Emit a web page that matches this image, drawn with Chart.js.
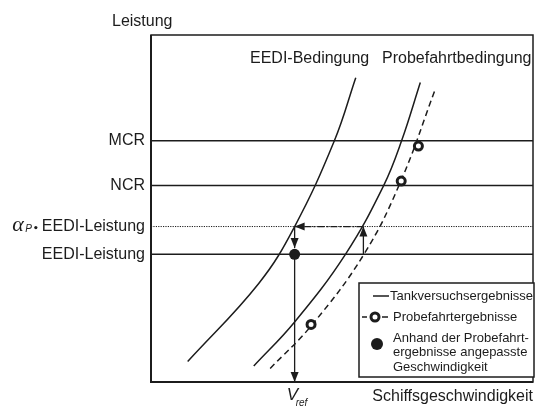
<!DOCTYPE html>
<html>
<head>
<meta charset="utf-8">
<script src="https://cdn.jsdelivr.net/npm/chart.js@4.4.1/dist/chart.umd.min.js"></script>
<style>
html, body { margin: 0; padding: 0; background: #fff; }
#wrap { width: 540px; height: 408px; }
</style>
</head>
<body>
<div id="wrap"><canvas id="chart" width="540" height="408"></canvas></div>
<script>
// Leistungs-/Geschwindigkeitsdiagramm (schematisch, Achsen 0..100)

// Leistungsstufen (y)
const levelNames = ['MCR', 'NCR', 'alpha', 'EEDI-Leistung'];
const levelValues = [69.5, 56.6, 44.8, 36.8];

// Tankversuchsergebnisse unter EEDI-Bedingung
const eediX = [9.6, 28.2, 37.6, 48.0, 53.6];
const eediY = [5.9, 28.4, 44.8, 69.5, 87.7];

// Tankversuchsergebnisse unter Probefahrtbedingung
const trialTankX = [26.9, 37.6, 50.9, 60.9, 65.6, 70.5];
const trialTankY = [4.6, 17.3, 36.8, 56.6, 69.5, 86.3];

// Probefahrtergebnisse (gestrichelte Kurve)
const trialX = [31.2, 42.1, 55.8, 65.4, 74.5];
const trialY = [3.9, 16.4, 36.9, 57.9, 84.6];

// Messpunkte der Probefahrt
const trialPointsX = [41.9, 65.5, 70.0];
const trialPointsY = [16.6, 57.9, 68.0];

// angepasste Geschwindigkeit
const vrefX = 37.6;
const adjustedY = 36.8;
const upArrowX = 55.6;

const ink = '#1c1c1c';
const FONT = '"Liberation Sans", Arial, sans-serif';

function toPoints(xs, ys) {
    return xs.map((x, i) => ({ x: x, y: ys[i] }));
}

function levelLine(value, dash, width) {
    return {
        data: [{ x: 0, y: value }, { x: 100, y: value }],
        borderColor: ink,
        borderWidth: width,
        borderDash: dash,
        pointRadius: 0,
        showLine: true,
        fill: false
    };
}

function curve(xs, ys, dash) {
    return {
        data: toPoints(xs, ys),
        borderColor: ink,
        borderWidth: 1.5,
        borderDash: dash,
        pointRadius: 0,
        showLine: true,
        tension: 0.4,
        fill: false
    };
}

function arrowLine(from, to, dash) {
    return {
        data: [from, to],
        borderColor: ink,
        borderWidth: 1.3,
        borderDash: dash,
        pointRadius: 0,
        showLine: true,
        fill: false,
        arrow: true
    };
}

const dotRadius = 5.5;

function drawArrowHead(ctx, x1, y1, x2, y2) {
    const a = Math.atan2(y2 - y1, x2 - x1);
    const len = 10, half = 4;
    const bx = x2 - len * Math.cos(a), by = y2 - len * Math.sin(a);
    ctx.beginPath();
    ctx.moveTo(x2, y2);
    ctx.lineTo(bx - half * Math.sin(a), by + half * Math.cos(a));
    ctx.lineTo(bx + half * Math.sin(a), by - half * Math.cos(a));
    ctx.closePath();
    ctx.fill();
}

const overlay = {
    id: 'overlay',
    afterDatasetsDraw(chart) {
        const ctx = chart.ctx;
        const xs = chart.scales.x;
        const ys = chart.scales.y;
        const area = chart.chartArea;
        ctx.save();
        ctx.fillStyle = ink;
        ctx.strokeStyle = ink;

        // Pfeilspitzen
        chart.data.datasets.forEach(ds => {
            if (!ds.arrow) return;
            const n = ds.data.length;
            const p1 = ds.data[n - 2], p2 = ds.data[n - 1];
            drawArrowHead(ctx,
                xs.getPixelForValue(p1.x), ys.getPixelForValue(p1.y),
                xs.getPixelForValue(p2.x), ys.getPixelForValue(p2.y));
        });

        // Rahmen
        ctx.lineWidth = 1.5;
        ctx.strokeRect(area.left, area.top, area.right - area.left, area.bottom - area.top);
        ctx.lineWidth = 2;
        ctx.beginPath();
        ctx.moveTo(area.left, area.top);
        ctx.lineTo(area.left, area.bottom);
        ctx.lineTo(area.right, area.bottom);
        ctx.stroke();

        // Beschriftung y
        ctx.font = '16px ' + FONT;
        ctx.textBaseline = 'middle';
        ctx.textAlign = 'right';
        const labelRight = area.left - 6;
        levelNames.forEach((name, i) => {
            const y = ys.getPixelForValue(levelValues[i]);
            if (name !== 'alpha') {
                ctx.fillText(name, labelRight, y);
                return;
            }
            ctx.font = '16px ' + FONT;
            const w = ctx.measureText('EEDI-Leistung').width;
            ctx.fillText('EEDI-Leistung', labelRight, y);
            const start = labelRight - w;
            ctx.beginPath();
            ctx.arc(start - 6, y + 1, 1.6, 0, Math.PI * 2);
            ctx.fill();
            ctx.textAlign = 'right';
            ctx.font = 'italic 10px ' + FONT;
            ctx.fillText('P', start - 10, y + 3);
            ctx.font = 'italic 22px "Liberation Serif", serif';
            ctx.fillText('\u03B1', start - 18, y - 1);
            ctx.font = '16px ' + FONT;
        });

        // Titel und Kurvenbeschriftungen
        ctx.textAlign = 'left';
        ctx.textBaseline = 'alphabetic';
        ctx.font = '16px ' + FONT;
        ctx.fillText('Leistung', 112, 26);
        ctx.fillText('EEDI-Bedingung', 250, 63);
        ctx.fillText('Probefahrtbedingung', 382, 63);
        ctx.textAlign = 'right';
        ctx.fillText('Schiffsgeschwindigkeit', 533, 401);

        // V_ref
        const vx = xs.getPixelForValue(vrefX);
        ctx.textAlign = 'left';
        ctx.font = 'italic 17px ' + FONT;
        ctx.fillText('V', vx - 8, 400);
        ctx.font = 'italic 10px ' + FONT;
        ctx.fillText('ref', vx + 1, 406);

        // Legende
        const lx = 359, ly = 283, lw = 175, lh = 94;
        ctx.fillStyle = '#fff';
        ctx.fillRect(lx, ly, lw, lh);
        ctx.fillStyle = ink;
        ctx.lineWidth = 1.5;
        ctx.strokeRect(lx, ly, lw, lh);

        ctx.lineWidth = 1.5;
        ctx.beginPath();
        ctx.moveTo(373, 296);
        ctx.lineTo(389, 296);
        ctx.stroke();

        ctx.beginPath();
        ctx.moveTo(362, 317);
        ctx.lineTo(367, 317);
        ctx.moveTo(382, 317);
        ctx.lineTo(388, 317);
        ctx.stroke();
        ctx.lineWidth = 3;
        ctx.beginPath();
        ctx.arc(375, 317, 4, 0, Math.PI * 2);
        ctx.stroke();

        ctx.beginPath();
        ctx.arc(377, 344, 6, 0, Math.PI * 2);
        ctx.fill();

        ctx.font = '13px ' + FONT;
        ctx.textAlign = 'left';
        ctx.textBaseline = 'middle';
        ctx.fillText('Tankversuchsergebnisse', 390, 296);
        ctx.fillText('Probefahrtergebnisse', 393, 317);
        ctx.fillText('Anhand der Probefahrt-', 393, 338);
        ctx.fillText('ergebnisse angepasste', 393, 352);
        ctx.fillText('Geschwindigkeit', 393, 367);

        ctx.restore();
    }
};

const datasets = [
    {
        data: toPoints(trialPointsX, trialPointsY),
        showLine: false,
        pointRadius: 4,
        pointBorderWidth: 3,
        pointBackgroundColor: '#fff',
        pointBorderColor: ink
    },
    {
        data: [{ x: vrefX, y: adjustedY }],
        showLine: false,
        pointRadius: dotRadius,
        pointBorderWidth: 0,
        pointBackgroundColor: ink,
        pointBorderColor: ink
    },
    arrowLine({ x: vrefX, y: levelValues[2] }, { x: vrefX, y: 38.6 }, []),
    arrowLine({ x: vrefX, y: adjustedY }, { x: vrefX, y: 0 }, []),
    arrowLine({ x: upArrowX, y: levelValues[2] }, { x: vrefX, y: levelValues[2] }, [7, 2, 2, 2]),
    arrowLine({ x: upArrowX, y: levelValues[3] }, { x: upArrowX, y: levelValues[2] }, []),
    curve(eediX, eediY, []),
    curve(trialTankX, trialTankY, []),
    curve(trialX, trialY, [6, 4]),
    levelLine(levelValues[0], [], 1.5),
    levelLine(levelValues[1], [], 1.5),
    levelLine(levelValues[2], [1.2, 1.2], 1),
    levelLine(levelValues[3], [], 1.5)
];

new Chart(document.getElementById('chart'), {
    type: 'scatter',
    data: { datasets: datasets },
    options: {
        responsive: false,
        devicePixelRatio: 1,
        animation: false,
        layout: { padding: { left: 151, top: 35, right: 2, bottom: 26 } },
        plugins: {
            legend: { display: false },
            tooltip: { enabled: false }
        },
        scales: {
            x: { type: 'linear', min: 0, max: 100, display: false },
            y: { type: 'linear', min: 0, max: 100, display: false }
        }
    },
    plugins: [overlay]
});
</script>
</body>
</html>
